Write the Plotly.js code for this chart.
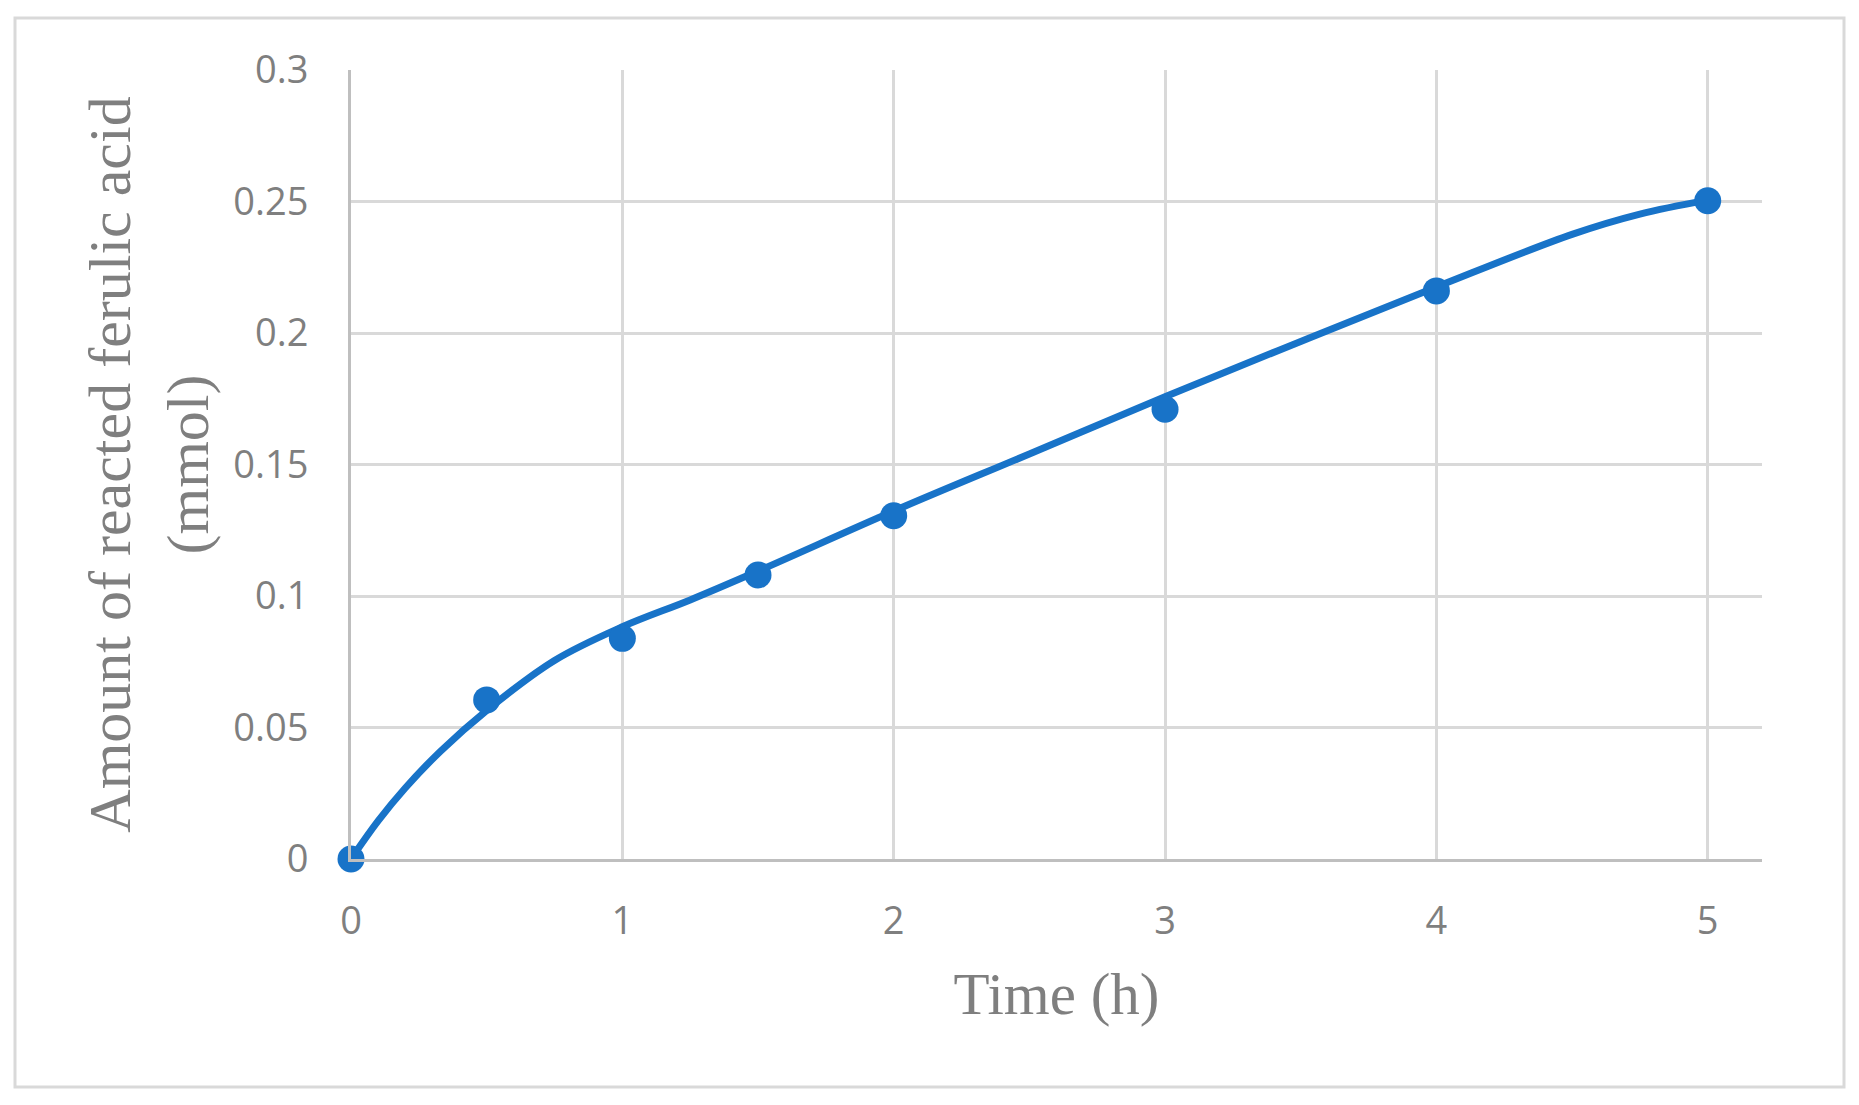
<!DOCTYPE html>
<html>
<head>
<meta charset="utf-8">
<script src="https://cdn.plot.ly/plotly-3.0.1.min.js"></script>
<style>
  html, body { margin: 0; padding: 0; background: #ffffff; }
  #chart { width: 1859px; height: 1105px; }
</style>
</head>
<body>
<div id="chart"></div>
<script>
// Measured data points
const timeHours = [0, 0.5, 1, 1.5, 2, 3, 4, 5];
const reactedFA = [0, 0.0605, 0.0839, 0.108, 0.1305, 0.171, 0.216, 0.2503];

// Smooth fitted curve
const curveTime = [0, 0.1, 0.2, 0.33, 0.5, 0.75, 1, 1.25, 1.5, 2, 2.5, 3, 3.5, 4, 4.5, 4.75, 5];
const curveFA = [0, 0.0145, 0.027, 0.041, 0.0565, 0.0755, 0.0883, 0.0985, 0.1095, 0.1323, 0.154, 0.1758, 0.1968, 0.2175, 0.2375, 0.2452, 0.2505];

// Tick labels
const xTickVals = [0, 1, 2, 3, 4, 5];
const xTickText = ['0', '1', '2', '3', '4', '5'];
const yTickVals = [0, 0.05, 0.1, 0.15, 0.2, 0.25, 0.3];
const yTickText = ['0', '0.05', '0.1', '0.15', '0.2', '0.25', '0.3'];

const blue = '#1873C8';
const gray = '#7f7f7f';

const traces = [
  {
    x: curveTime, y: curveFA, type: 'scatter', mode: 'lines',
    line: { color: blue, width: 7, shape: 'spline', smoothing: 1 },
    cliponaxis: false, hoverinfo: 'skip', showlegend: false
  },
  {
    x: timeHours, y: reactedFA, type: 'scatter', mode: 'markers',
    marker: { color: blue, size: 27 },
    cliponaxis: false, showlegend: false
  }
];

// plot area in pixels: left 351, right 1762, top 70, bottom 859
const L = 351, R = 1762, T = 70, B = 859;
const W = R - L, H = B - T;
function px(x) { return (x - L) / W; }
function py(y) { return (B - y) / H; }

const layout = {
  width: 1859, height: 1105,
  margin: { l: L, r: 1859 - R, t: T, b: 1105 - B, pad: 0 },
  paper_bgcolor: '#ffffff', plot_bgcolor: '#ffffff',
  showlegend: false,
  font: { family: 'Open Sans, sans-serif', color: gray },
  xaxis: {
    range: [0, 5.2], autorange: false, fixedrange: true,
    tickvals: xTickVals, ticktext: xTickText,
    showgrid: true, gridcolor: '#d9d9d9', gridwidth: 3,
    zeroline: false,
    showline: true, linecolor: '#bfbfbf', linewidth: 3,
    ticks: '', ticklabelstandoff: 26,
    tickfont: { family: 'Open Sans, sans-serif', size: 38, color: gray },
    title: { text: 'Time (h)', standoff: 30,
      font: { family: 'Liberation Serif, Times New Roman, serif', size: 59, color: gray } },
    automargin: false
  },
  yaxis: {
    range: [0, 0.3], autorange: false, fixedrange: true,
    tickvals: yTickVals, ticktext: yTickText,
    showgrid: true, gridcolor: '#d9d9d9', gridwidth: 3,
    zeroline: false,
    showline: true, linecolor: '#bfbfbf', linewidth: 3,
    ticks: '', ticklabelstandoff: 32,
    tickfont: { family: 'Open Sans, sans-serif', size: 38, color: gray },
    title: { text: 'Amount of reacted ferulic acid<br>(mmol)', standoff: 6,
      font: { family: 'Liberation Serif, Times New Roman, serif', size: 60, color: gray } },
    automargin: false
  },
  shapes: [
    {
      type: 'rect', xref: 'paper', yref: 'paper', layer: 'below',
      x0: px(15), x1: px(1844), y0: py(1087), y1: py(18),
      line: { color: '#d9d9d9', width: 3 }, fillcolor: 'rgba(0,0,0,0)'
    }
  ]
};

Plotly.newPlot('chart', traces, layout, { displayModeBar: false, staticPlot: true });
</script>
</body>
</html>
